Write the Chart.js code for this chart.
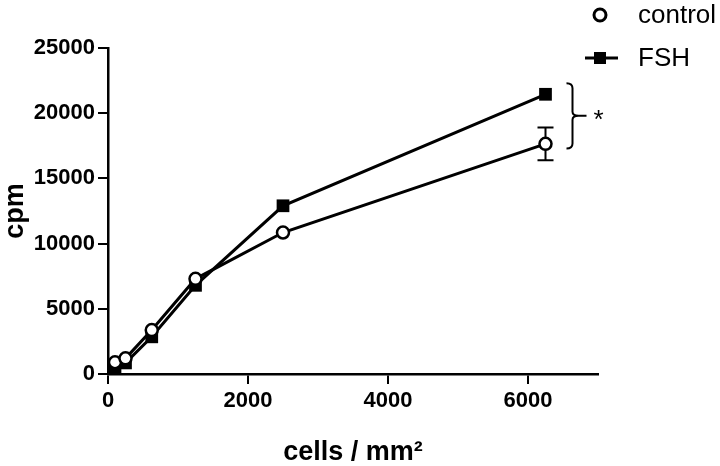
<!DOCTYPE html>
<html>
<head>
<meta charset="utf-8">
<script src="https://cdn.jsdelivr.net/npm/chart.js@4/dist/chart.umd.min.js"></script>
<style>
  body { margin: 0; background: #fff; }
  #wrap { width: 720px; height: 466px; }
</style>
</head>
<body>
<div id="wrap"><canvas id="cpmChart" width="720" height="466"></canvas></div>
<script>
// data
const cellDensity = [100, 250, 625, 1250, 2500, 6250];      // cells / mm2
const controlCpm = [900, 1200, 3370, 7300, 10850, 17650];
const controlErr = [0, 0, 0, 0, 0, 1250];
const fshCpm = [500, 850, 2850, 6800, 12900, 21450];
const xTicks = [0, 2000, 4000, 6000];
const yTicks = [0, 5000, 10000, 15000, 20000, 25000];
const seriesNames = ['control', 'FSH'];
// significance bracket between the two last points
const bracketRange = [17300, 22300];

const toPoints = ys => cellDensity.map((x, i) => ({ x: x, y: ys[i] }));

// error bars (drawn under the markers)
const errorBars = {
    id: 'errorBars',
    beforeDatasetsDraw(chart) {
        const ctx = chart.ctx;
        const xs = chart.scales.x, ys = chart.scales.y;
        ctx.save();
        ctx.strokeStyle = '#000';
        ctx.lineWidth = 2;
        cellDensity.forEach((d, i) => {
            if (!controlErr[i]) return;
            const px = xs.getPixelForValue(d);
            const top = ys.getPixelForValue(controlCpm[i] + controlErr[i]);
            const bot = ys.getPixelForValue(controlCpm[i] - controlErr[i]);
            ctx.beginPath();
            ctx.moveTo(px, top); ctx.lineTo(px, bot);
            ctx.moveTo(px - 8, top); ctx.lineTo(px + 8, top);
            ctx.moveTo(px - 8, bot); ctx.lineTo(px + 8, bot);
            ctx.stroke();
        });
        ctx.restore();
    }
};

// curly bracket + asterisk, and the legend in the top right corner
const extras = {
    id: 'extras',
    afterDraw(chart) {
        const ctx = chart.ctx;
        const xs = chart.scales.x, ys = chart.scales.y;
        const last = cellDensity[cellDensity.length - 1];
        const bx = xs.getPixelForValue(last) + 27;
        const top = ys.getPixelForValue(bracketRange[1]);
        const bot = ys.getPixelForValue(bracketRange[0]);
        const mid = (top + bot) / 2;
        ctx.save();
        ctx.strokeStyle = '#000';
        ctx.lineWidth = 2;
        ctx.beginPath();
        ctx.moveTo(bx - 6, top);
        ctx.quadraticCurveTo(bx, top, bx, top + 5);
        ctx.lineTo(bx, mid - 4);
        ctx.quadraticCurveTo(bx, mid, bx + 6, mid);
        ctx.lineTo(bx + 14, mid);
        ctx.moveTo(bx + 6, mid);
        ctx.quadraticCurveTo(bx, mid, bx, mid + 4);
        ctx.lineTo(bx, bot - 5);
        ctx.quadraticCurveTo(bx, bot, bx - 6, bot);
        ctx.stroke();
        ctx.fillStyle = '#000';
        ctx.font = '26px "Liberation Sans", Arial, sans-serif';
        ctx.textAlign = 'center';
        ctx.textBaseline = 'middle';
        ctx.fillText('*', bx + 26, mid + 5);

        // legend
        ctx.textAlign = 'left';
        ctx.font = '26px "Liberation Sans", Arial, sans-serif';
        // control: open circle only
        ctx.lineWidth = 3;
        ctx.beginPath();
        ctx.arc(600, 15, 6, 0, Math.PI * 2);
        ctx.fillStyle = '#fff';
        ctx.fill();
        ctx.stroke();
        ctx.fillStyle = '#000';
        ctx.fillText(seriesNames[0], 638, 16);
        // FSH: line with filled square
        ctx.lineWidth = 3;
        ctx.beginPath();
        ctx.moveTo(585, 58); ctx.lineTo(618, 58);
        ctx.stroke();
        ctx.fillRect(594, 52, 12, 12);
        ctx.fillText(seriesNames[1], 638, 59);
        ctx.restore();
    }
};

const ctx = document.getElementById('cpmChart').getContext('2d');
const tickFont = { family: '"Liberation Sans", Arial, sans-serif', size: 22, weight: 'bold' };

new Chart(ctx, {
    type: 'scatter',
    data: {
        datasets: [
            {
                label: seriesNames[0],
                data: toPoints(controlCpm),
                showLine: true,
                borderColor: '#000',
                borderWidth: 3,
                pointStyle: 'circle',
                pointRadius: 6,
                pointBorderWidth: 2.5,
                pointBackgroundColor: '#fff',
                pointBorderColor: '#000',
                clip: false
            },
            {
                label: seriesNames[1],
                data: toPoints(fshCpm),
                showLine: true,
                borderColor: '#000',
                borderWidth: 3,
                pointStyle: 'rect',
                pointRadius: 9,
                pointBorderWidth: 0,
                pointBackgroundColor: '#000',
                pointBorderColor: '#000',
                clip: false
            }
        ]
    },
    options: {
        responsive: false,
        animation: false,
        layout: { padding: { top: 48, right: 122, left: 0, bottom: 0 } },
        plugins: {
            legend: { display: false },
            tooltip: { enabled: false }
        },
        scales: {
            x: {
                type: 'linear',
                min: 0,
                max: 7000,
                afterFit: s => { s.height = 92; },
                afterBuildTicks: s => { s.ticks = xTicks.map(v => ({ value: v })); },
                ticks: { color: '#000', font: tickFont, padding: 4, maxRotation: 0, callback: v => String(v) },
                grid: { drawOnChartArea: false, drawTicks: true, tickLength: 10, color: '#000', lineWidth: 2 },
                border: { display: true, color: '#000', width: 2.5 },
                title: {
                    display: true, text: 'cells / mm²', color: '#000',
                    font: { family: '"Liberation Sans", Arial, sans-serif', size: 27, weight: 'bold', lineHeight: 1.0 },
                    padding: { top: 0, bottom: 0 }
                }
            },
            y: {
                min: 0,
                max: 25000,
                afterFit: s => { s.width = 108; },
                afterBuildTicks: s => { s.ticks = yTicks.map(v => ({ value: v })); },
                ticks: { color: '#000', font: tickFont, padding: 3, callback: v => String(v) },
                grid: { drawOnChartArea: false, drawTicks: true, tickLength: 10, color: '#000', lineWidth: 2 },
                border: { display: true, color: '#000', width: 2.5 },
                title: {
                    display: true, text: 'cpm', color: '#000',
                    font: { family: '"Liberation Sans", Arial, sans-serif', size: 27, weight: 'bold', lineHeight: 1.0 },
                    padding: { top: 2, bottom: 0 }
                }
            }
        }
    },
    plugins: [errorBars, extras]
});
</script>
</body>
</html>
